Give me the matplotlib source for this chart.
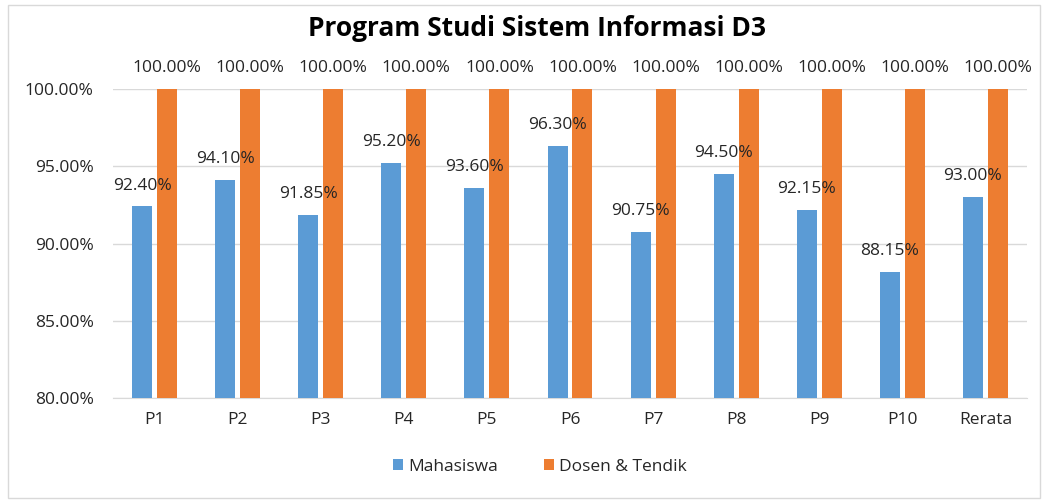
import matplotlib.pyplot as plt
import numpy as np
from matplotlib.patches import Rectangle

categories = ["P1", "P2", "P3", "P4", "P5", "P6", "P7", "P8", "P9", "P10", "Rerata"]
mahasiswa = [92.40, 94.10, 91.85, 95.20, 93.60, 96.30, 90.75, 94.50, 92.15, 88.15, 93.00]
dosen = [100.00] * 11

blue = "#5B9BD5"
orange = "#ED7D31"
txt = "#262626"

plt.rcParams['font.family'] = ['Open Sans', 'DejaVu Sans']

fig = plt.figure(figsize=(10.46, 5.01), dpi=100)
ax = fig.add_axes([113 / 1046, 1 - 398 / 501, (1027 - 113) / 1046, (398 - 89) / 501])

x = np.arange(len(categories))
w = 0.24
b1 = ax.bar(x - 0.15, mahasiswa, w, color=blue, label="Mahasiswa", zorder=3)
b2 = ax.bar(x + 0.15, dosen, w, color=orange, label="Dosen & Tendik", zorder=3)

for bars, vals in ((b1, mahasiswa), (b2, dosen)):
    for r, v in zip(bars, vals):
        ax.annotate(f"{v:.2f}%", (r.get_x() + r.get_width() / 2, v),
                    xytext=(0, 15), textcoords="offset points",
                    ha="center", va="center", fontsize=12.5, color=txt)

ax.set_ylim(80, 100)
ax.set_xlim(-0.5, len(categories) - 0.5)
ax.set_yticks([80, 85, 90, 95, 100])
ax.set_yticklabels([f"{t:.2f}%" for t in [80, 85, 90, 95, 100]])
ax.set_xticks(x)
ax.set_xticklabels(categories)
ax.tick_params(axis="both", length=0, labelsize=12.5, colors=txt)
ax.tick_params(axis="x", pad=10)
ax.tick_params(axis="y", pad=14)
ax.grid(axis="y", color="#D9D9D9", linewidth=1, zorder=0)
for s in ["top", "right", "left"]:
    ax.spines[s].set_visible(False)
ax.spines["bottom"].set_color("#D9D9D9")

fig.text(537 / 1046, 1 - 29 / 501, "Program Studi Sistem Informasi D3", ha="center", va="center",
         fontsize=19, fontweight="bold", color="#000000")

fig.legend(handles=[b1, b2], loc="center", bbox_to_anchor=(540 / 1046, 1 - 467 / 501),
           ncol=2, frameon=False, fontsize=12.5, handlelength=0.6, handleheight=0.6,
           handletextpad=0.3, columnspacing=2.6, labelcolor=txt)

fig.patches.append(Rectangle((8 / 1046, 0.005), 1 - 14 / 1046, 1 - 5 / 501 - 0.005,
                             transform=fig.transFigure, fill=False,
                             edgecolor="#D9D9D9", linewidth=1))

fig.savefig("out.png", dpi=100)
